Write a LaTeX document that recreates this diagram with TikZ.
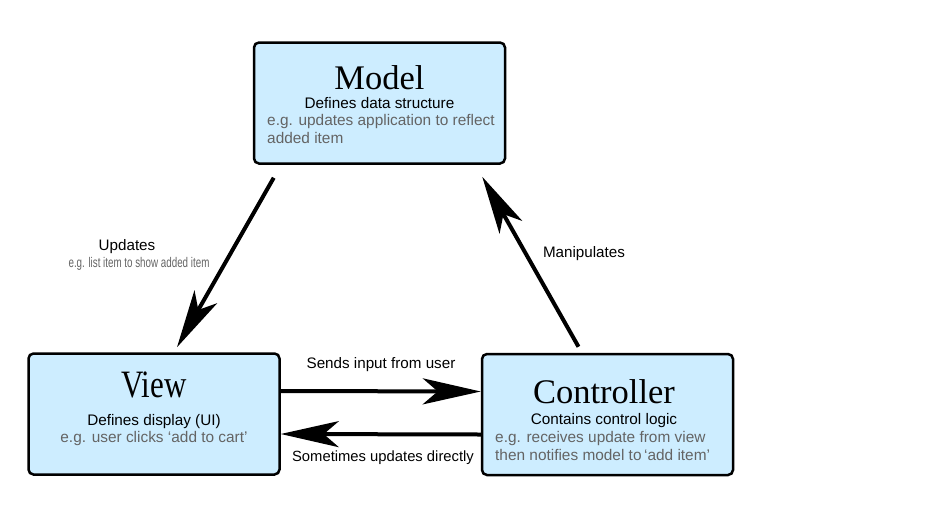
\documentclass[tikz,border=0pt]{standalone}
\usepackage{fontspec}
\setmainfont{Liberation Sans}
\newfontfamily\titlefont{Liberation Serif}
\usetikzlibrary{arrows.meta}

\definecolor{boxblue}{RGB}{205,237,255}
\definecolor{notegray}{RGB}{100,100,100}

\tikzset{
    mvcbox/.style={draw=black, line width=2.5pt, fill=boxblue, rounded corners=5pt,
        minimum width=251pt, minimum height=121pt, inner sep=0pt},
    boxtitle/.style={anchor=base, inner sep=0pt, font=\titlefont\fontsize{34.5}{34.5}\selectfont},
    boxtext/.style={anchor=base, inner sep=0pt, font=\fontsize{15.3}{17}\selectfont},
    boxnote/.style={inner sep=0pt, text=notegray, font=\fontsize{15.4}{17}\selectfont},
    edgelabel/.style={anchor=base, inner sep=0pt, font=\fontsize{15.2}{17}\selectfont},
    mvcarrow/.style={line width=4pt, -{Stealth[length=58pt, width=26pt, inset=15pt]}}
}

\begin{document}
\begin{tikzpicture}[x=1pt, y=-1pt]
                \useasboundingbox (0,0) rectangle (937,520);

                % Draw boxes
                \node[mvcbox] (model) at (379.5,103) {};
                \node[mvcbox] (view) at (154,414) {};
                \node[mvcbox] (controller) at (607.5,414.5) {};

                % Model text
                \node[boxtitle] (modeltitle) at (379.5,89) {Model};
                \node[boxtext] (modeltext) at (379.5,108) {Defines data structure};
                \node[boxnote, anchor=base west] (modelnote1) at (267,125) {e.g. updates application to reflect};
                \node[boxnote, anchor=base west] (modelnote2) at (267,143) {added item};

                % View text
                \node[boxtitle] (viewtitle) at (154,397)
                    {\scalebox{1}[1.25]{\fontsize{31}{31}\selectfont View}};
                \node[boxtext] (viewtext) at (154,425) {Defines display (UI)};
                \node[boxnote, anchor=base] (viewnote) at (154,442) {e.g. user clicks ‘add to cart’};

                % Controller text
                \node[boxtitle] (controllertitle) at (604,403) {Controller};
                \node[boxtext] (controllertext) at (604,424) {Contains control logic};
                \node[boxnote, anchor=base west] (controllernote1) at (495,442) {e.g. receives update from view};
                \node[boxnote, anchor=base west] (controllernote2) at (495,460) {then notifies model to\,‘add item’};

                % Arrows
                \draw[mvcarrow] ([shift={(21pt,-13pt)}]model.south west) -- ([shift={(23pt,5pt)}]view.north);
                \draw[mvcarrow] ([shift={(-29pt,6pt)}]controller.north) -- ([shift={(-24pt,-12pt)}]model.south east);
                \draw[mvcarrow] ([yshift=23pt]view.east) -- ([yshift=23pt]controller.west);
                \draw[mvcarrow] ([yshift=-20pt]controller.west) -- ([yshift=-20pt]view.east);

                % Arrow labels
                \node[edgelabel] (updlabel) at (127,250) {Updates};
                \node[edgelabel, text=notegray] (updnote) at (139,267)
                    {\scalebox{0.7}[1]{\fontsize{14}{14}\selectfont e.g. list item to show added item}};
                \node[edgelabel] (manlabel) at (584,257) {Manipulates};
                \node[edgelabel] (sendlabel) at (381,368) {Sends input from user};
                \node[edgelabel, font=\fontsize{14.8}{17}\selectfont] (directlabel) at (383,461.5) {Sometimes updates directly};

\end{tikzpicture}
\end{document}
